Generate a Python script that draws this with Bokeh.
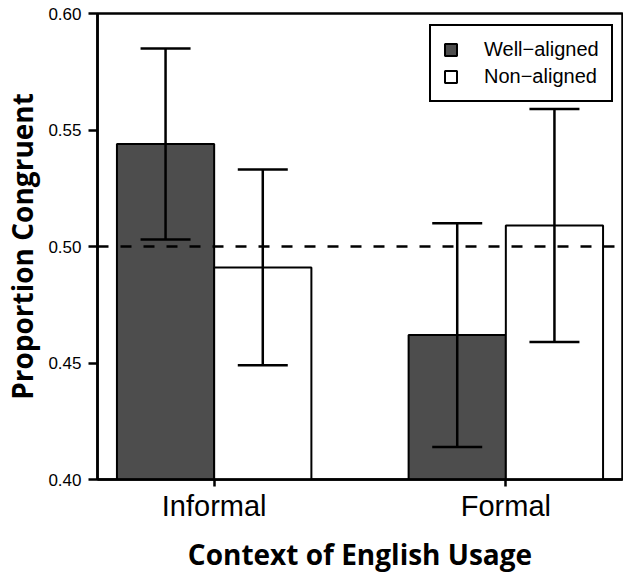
from bokeh.plotting import figure
from bokeh.models import (Range1d, FixedTicker, Whisker, ColumnDataSource, Span,
                          TeeHead, PrintfTickFormatter)
from bokeh.embed import file_html
from bokeh.resources import INLINE

# ---- data ----
contexts = ["Informal", "Formal"]
series = ["Well\u2212aligned", "Non\u2212aligned"]
well_mean = [0.544, 0.462]
well_lower = [0.503, 0.414]
well_upper = [0.585, 0.510]
non_mean = [0.491, 0.509]
non_lower = [0.449, 0.459]
non_upper = [0.533, 0.559]
y_ticks = [0.40, 0.45, 0.50, 0.55, 0.60]
chance = 0.5

group_x = [2 + 3 * i for i in range(len(contexts))]
well_x = [g - 0.5 for g in group_x]
non_x = [g + 0.5 for g in group_x]

well_src = ColumnDataSource(dict(x=well_x, top=well_mean, lo=well_lower, hi=well_upper))
non_src = ColumnDataSource(dict(x=non_x, top=non_mean, lo=non_lower, hi=non_upper))

p = figure(width=623, height=575, output_backend="svg", toolbar_location=None,
           x_range=Range1d(0.8, 6.2), y_range=Range1d(0.40, 0.60),
           min_border_left=96, min_border_right=1, min_border_top=13, min_border_bottom=91,
           background_fill_color="white", border_fill_color="white")

p.xgrid.visible = False
p.ygrid.visible = False
p.outline_line_color = "black"
p.outline_line_width = 2.5

p.vbar(x="x", top="top", bottom=0, width=1.0, source=well_src,
       fill_color="#4d4d4d", line_color="black", line_width=2, legend_label=series[0])
p.vbar(x="x", top="top", bottom=0, width=1.0, source=non_src,
       fill_color="white", line_color="black", line_width=2, legend_label=series[1])

p.add_layout(Span(location=chance, dimension="width", line_color="black",
                  line_width=2.5, line_dash="11 12", level="overlay"))

for src in (well_src, non_src):
    w = Whisker(source=src, base="x", lower="lo", upper="hi", dimension="height",
                line_color="black", line_width=2.5, level="overlay",
                upper_head=TeeHead(size=50, line_color="black", line_width=2.5),
                lower_head=TeeHead(size=50, line_color="black", line_width=2.5))
    p.add_layout(w)

# y axis
yax = p.yaxis[0]
yax.ticker = FixedTicker(ticks=y_ticks)
yax.formatter = PrintfTickFormatter(format="%.2f")
yax.minor_tick_line_color = None
yax.major_tick_in = 0
yax.major_tick_out = 9
yax.major_tick_line_width = 2.5
yax.axis_line_width = 2.5
yax.major_label_text_font = "Liberation Sans"
yax.major_label_text_font_size = "17px"
yax.major_label_text_color = "black"
yax.major_label_standoff = 7
yax.axis_label = "Proportion Congruent"
yax.axis_label_text_font = "Open Sans"
yax.axis_label_text_font_style = "bold"
yax.axis_label_text_font_size = "28px"
yax.axis_label_text_color = "black"
yax.axis_label_standoff = 4

# x axis
xax = p.xaxis[0]
xax.ticker = FixedTicker(ticks=group_x)
xax.major_label_overrides = {g: c for g, c in zip(group_x, contexts)}
xax.minor_tick_line_color = None
xax.major_tick_in = 0
xax.major_tick_out = 7
xax.major_tick_line_width = 2.5
xax.axis_line_width = 2.5
xax.major_label_text_font = "Liberation Sans"
xax.major_label_text_font_size = "29px"
xax.major_label_text_color = "black"
xax.major_label_standoff = 3
xax.axis_label = "Context of English Usage"
xax.axis_label_text_font = "Open Sans"
xax.axis_label_text_font_style = "bold"
xax.axis_label_text_font_size = "28px"
xax.axis_label_text_color = "black"
xax.axis_label_standoff = 10

lg = p.legend[0]
lg.location = (332, 377)
lg.border_line_color = "black"
lg.border_line_alpha = 1.0
lg.border_line_width = 2.5
lg.background_fill_color = "white"
lg.background_fill_alpha = 1
lg.label_text_font = "Liberation Sans"
lg.label_text_font_size = "20px"
lg.label_text_color = "black"
lg.glyph_width = 15
lg.glyph_height = 15
lg.label_height = 22
lg.label_standoff = 26
lg.spacing = 4
lg.padding = 12
lg.margin = 0

open("out.html", "w").write(file_html(p, INLINE))
